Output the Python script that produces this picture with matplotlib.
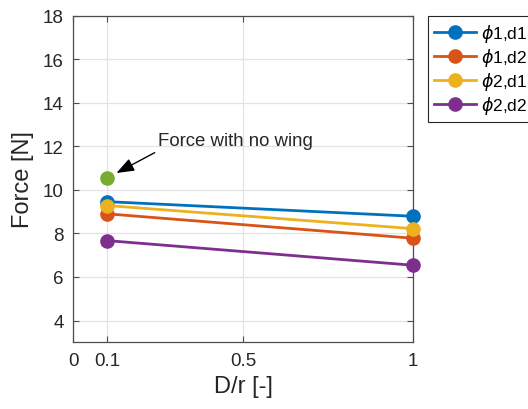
import matplotlib
matplotlib.use('Agg')
import matplotlib.pyplot as plt

# data
dr = [0.1, 1.0]
force_p1d1 = [9.46, 8.79]
force_p1d2 = [8.90, 7.78]
force_p2d1 = [9.28, 8.22]
force_p2d2 = [7.67, 6.54]
no_wing_x = 0.1
no_wing_force = 10.55

labels = [r'$\phi$1,d1', r'$\phi$1,d2', r'$\phi$2,d1', r'$\phi$2,d2']
colors = ['#0072BD', '#D95319', '#EDB120', '#7E2F8E']
series = [force_p1d1, force_p1d2, force_p2d1, force_p2d2]

plt.rcParams['font.family'] = ['Liberation Sans', 'DejaVu Sans']
plt.rcParams['mathtext.fontset'] = 'dejavusans'

fig = plt.figure(figsize=(5.28, 4.10), dpi=100)
ax = fig.add_axes([73.3 / 528, 1 - 343.3 / 410, (412.7 - 73.3) / 528, (343.3 - 16.7) / 410])

for y, c, lab in zip(series, colors, labels):
    ax.plot(dr, y, '-o', color=c, lw=2, ms=9.5, label=lab, zorder=3, clip_on=False)

ax.plot([no_wing_x], [no_wing_force], 'o', color='#77AC30', ms=9.5, zorder=3, clip_on=False)

ax.annotate('Force with no wing', xy=(no_wing_x, no_wing_force),
            xytext=(0.2496, 12.05), ha='left', va='baseline', fontsize=13.4,
            color='#262626',
            arrowprops=dict(arrowstyle='-|>,head_length=0.8,head_width=0.3',
                            color='black', lw=1, relpos=(0.02, 0),
                            shrinkA=1, shrinkB=7.5))

ax.set_xlim(0, 1)
ax.set_ylim(3, 18)
ax.set_xticks([0, 0.1, 0.5, 1])
ax.set_xticklabels(['0', '0.1', '0.5', '1'])
ax.set_yticks([4, 6, 8, 10, 12, 14, 16, 18])

ax.grid(True, color='#e3e3e3', lw=0.9)
ax.set_axisbelow(True)
for s in ax.spines.values():
    s.set_color('#4d4d4d')
    s.set_linewidth(0.9)
ax.tick_params(direction='in', length=4, width=0.8, top=True, right=True,
               labelsize=13.5, colors='#4d4d4d', labelcolor='#262626', pad=7)

ax.set_xlabel('D/r [-]', fontsize=17, color='#262626', labelpad=4)
ax.set_ylabel('Force [N]', fontsize=17, color='#262626', labelpad=6)

leg = fig.legend(loc='upper left', bbox_to_anchor=(428 / 528, 1 - 16.7 / 410),
                 fontsize=12.5, frameon=True, fancybox=False, framealpha=1,
                 edgecolor='#262626', handlelength=2.4, handletextpad=0.3,
                 labelspacing=0.12, borderpad=0.35, borderaxespad=0)
leg.get_frame().set_linewidth(0.8)

fig.savefig('out.png', dpi=100)
